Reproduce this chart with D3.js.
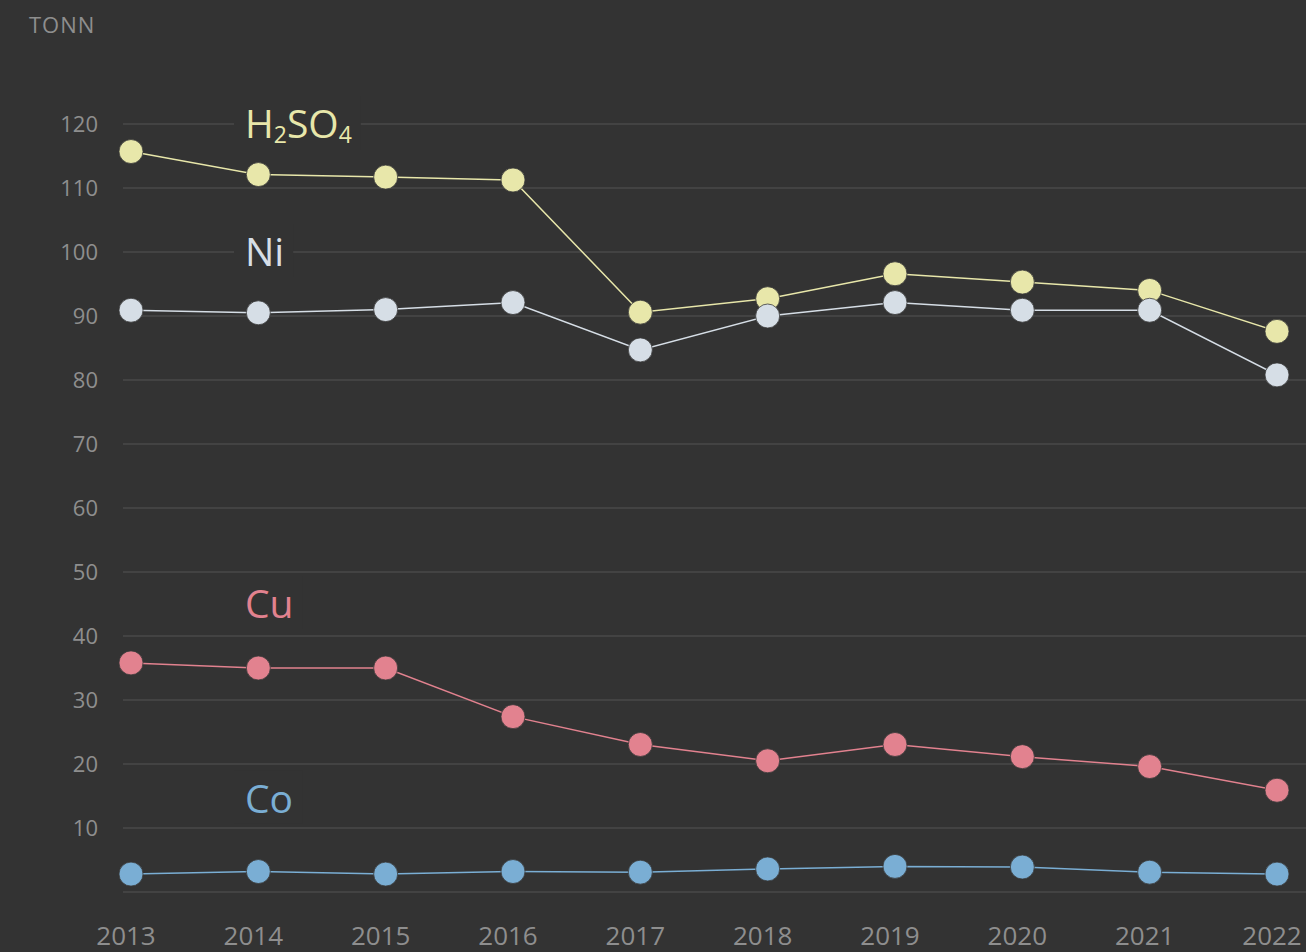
<!DOCTYPE html>
<html>
<head>
<meta charset="utf-8">
<script src="https://cdn.jsdelivr.net/npm/d3@7/dist/d3.min.js"></script>
<style>
html,body{margin:0;padding:0;background:#333333;}
svg{display:block;}
text{font-family:"Open Sans","Noto Sans",sans-serif;}
</style>
</head>
<body>
<svg id="chart" width="1306" height="952"></svg>
<script>
const years = [2013,2014,2015,2016,2017,2018,2019,2020,2021,2022];
const h2so4 = [115.7,112.1,111.7,111.25,90.6,92.7,96.6,95.3,94.0,87.6];
const ni    = [90.9,90.5,91.0,92.1,84.7,90.0,92.1,90.9,90.9,80.8];
const cu    = [35.8,35.0,35.0,27.4,23.05,20.5,23.05,21.15,19.6,15.9];
const co    = [2.8,3.2,2.8,3.2,3.1,3.6,4.0,3.9,3.1,2.8];
const yTicks = [0,10,20,30,40,50,60,70,80,90,100,110,120];
const unitLabel = "TONN";

const series = [
  {name:"H2SO4", values:h2so4, color:"#e8e7aa", labelValue:120},
  {name:"Ni", values:ni, color:"#d6dee6", labelValue:100},
  {name:"Cu", values:cu, color:"#e2828f", labelValue:45},
  {name:"Co", values:co, color:"#7aaed4", labelValue:14.6}
];

const svg = d3.select("#chart");
const W = 1306, H = 952;
const x = d3.scalePoint().domain(years).range([131,1277]);
const y = d3.scaleLinear().domain([0,120]).range([892,124]);

// gridlines
svg.append("g").selectAll("line").data(yTicks).join("line")
  .attr("x1",123).attr("x2",W)
  .attr("y1",d=>y(d)).attr("y2",d=>y(d))
  .attr("stroke","#4a4a4a").attr("stroke-width",1.5);

// y labels
svg.append("g").selectAll("text").data(yTicks.filter(d=>d>0)).join("text")
  .attr("x",98).attr("y",d=>y(d)+8)
  .attr("text-anchor","end")
  .attr("fill","#8e8e8e").attr("font-size",22)
  .text(d=>d);

// unit label
svg.append("text").attr("x",29).attr("y",33)
  .attr("fill","#8e8e8e").attr("font-size",22).attr("letter-spacing",1)
  .text(unitLabel);

// x labels
svg.append("g").selectAll("text").data(years).join("text")
  .attr("x",d=>x(d)-5).attr("y",945)
  .attr("text-anchor","middle")
  .attr("fill","#8e8e8e").attr("font-size",26)
  .text(d=>d);

// series labels with background
series.forEach(s=>{
  const g = svg.append("g");
  const rect = g.append("rect").attr("fill","#333333");
  const t = g.append("text")
    .attr("x",245).attr("y",y(s.labelValue)+14)
    .attr("fill",s.color).attr("font-size",39);
  if(s.name==="H2SO4"){
    t.append("tspan").text("H");
    t.append("tspan").attr("font-size",23).attr("dy",5).text("2");
    t.append("tspan").attr("dy",-5).text("SO");
    t.append("tspan").attr("font-size",23).attr("dy",5).text("4");
  } else {
    t.text(s.name);
  }
  const bb = t.node().getBBox();
  rect.attr("x",bb.x-11).attr("y",bb.y).attr("width",bb.width+20).attr("height",bb.height);
});

// lines & points
const line = d3.line().x((d,i)=>x(years[i])).y(d=>y(d));
series.forEach(s=>{
  svg.append("path").datum(s.values)
    .attr("d",line).attr("fill","none")
    .attr("stroke",s.color).attr("stroke-width",1.5);
});
series.forEach(s=>{
  svg.append("g").selectAll("circle").data(s.values).join("circle")
    .attr("cx",(d,i)=>x(years[i])).attr("cy",d=>y(d)).attr("r",12)
    .attr("fill",s.color).attr("stroke","#3a3a3a").attr("stroke-width",0.8);
});
</script>
</body>
</html>
